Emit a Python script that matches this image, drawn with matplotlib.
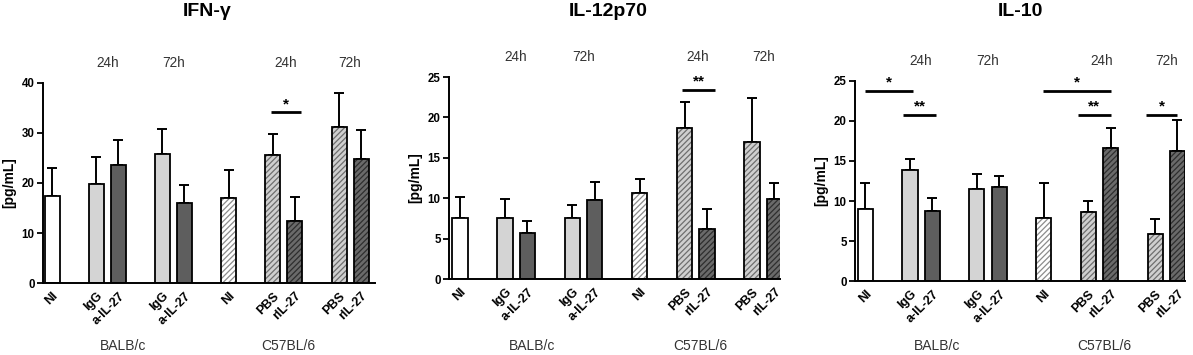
import numpy as np
import matplotlib
matplotlib.use('Agg')
import matplotlib.pyplot as plt
from matplotlib.transforms import blended_transform_factory

plt.rcParams['font.family'] = ['Liberation Sans', 'DejaVu Sans']
plt.rcParams['hatch.linewidth'] = 0.9

# bar layout: BALB/c NI, 24h IgG/a-IL-27, 72h IgG/a-IL-27 | C57BL/6 NI, 24h PBS/rIL-27, 72h PBS/rIL-27
positions = [0, 2, 3, 5, 6, 8, 10, 11, 13, 14]
bar_labels = ['NI', 'IgG', 'a-IL-27', 'IgG', 'a-IL-27', 'NI', 'PBS', 'rIL-27', 'PBS', 'rIL-27']
time_labels = ['24h', '72h', '24h', '72h']
time_pos = [2.5, 5.5, 10.6, 13.5]
group_labels = ['BALB/c', 'C57BL/6']
group_pos = [3.2, 10.7]

titles = ['IFN-\u03b3', 'IL-12p70', 'IL-10']

ifn_mean = [17.3, 19.7, 23.6, 25.8, 16.0, 16.9, 25.6, 12.4, 31.1, 24.7]
ifn_sem = [5.6, 5.4, 4.9, 5.0, 3.5, 5.6, 4.2, 4.7, 6.9, 5.9]

il12_mean = [7.5, 7.6, 5.7, 7.5, 9.8, 10.6, 18.7, 6.2, 17.0, 9.9]
il12_sem = [2.7, 2.3, 1.5, 1.6, 2.2, 1.8, 3.2, 2.5, 5.4, 2.0]

il10_mean = [9.0, 13.9, 8.7, 11.5, 11.7, 7.9, 8.6, 16.6, 5.9, 16.3]
il10_sem = [3.2, 1.4, 1.7, 1.9, 1.4, 4.3, 1.4, 2.5, 1.8, 3.8]

# significance brackets: (x start, x end, y, label)
ifn_sig = [(9.9, 11.3, 34.2, '*')]
il12_sig = [(9.9, 11.35, 23.4, '**')]
il10_sig = [(0.0, 2.15, 23.8, '*'), (1.7, 3.15, 20.8, '**'),
            (7.95, 11.0, 23.8, '*'), (9.55, 11.0, 20.8, '**'),
            (12.6, 14.0, 20.8, '*')]

ymax = [40, 25, 25]
ystep = [10, 5, 5]

face = ['white', '#d4d4d4', '#5e5e5e', '#d4d4d4', '#5e5e5e',
        'white', '#cfcfcf', '#6a6a6a', '#cfcfcf', '#6a6a6a']
hatch_col = [None, None, None, None, None,
             '#8c8c8c', '#6e6e6e', '#2e2e2e', '#6e6e6e', '#2e2e2e']

boxes = [
    [43 / 1193, 72 / 355, 332 / 1193, 200 / 355],
    [449 / 1193, 76 / 355, 331 / 1193, 202 / 355],
    [855 / 1193, 74 / 355, 330 / 1193, 200 / 355],
]
xlims = [(-0.41, 14.63), (-0.49, 14.25), (-0.47, 14.34)]
title_x = [207, 608, 1020]

fig = plt.figure(figsize=(11.93, 3.55), dpi=100)

data = [(ifn_mean, ifn_sem, ifn_sig), (il12_mean, il12_sem, il12_sig), (il10_mean, il10_sem, il10_sig)]

for k, (mean, sem, sig) in enumerate(data):
    ax = fig.add_axes(boxes[k])
    w = 0.68
    for i, x in enumerate(positions):
        if hatch_col[i] is None:
            ax.bar(x, mean[i], width=w, color=face[i], edgecolor='black', linewidth=1.3, zorder=2)
        else:
            ax.bar(x, mean[i], width=w, color=face[i], edgecolor=hatch_col[i], linewidth=0,
                   hatch='//////', zorder=2)
            ax.bar(x, mean[i], width=w, fill=False, edgecolor='black', linewidth=1.3, zorder=3)
    ax.errorbar(positions, mean, yerr=[np.zeros(len(sem)), sem], fmt='none',
                ecolor='black', elinewidth=1.4, capsize=3.5, capthick=1.4, zorder=1)

    for x0, x1, y, s in sig:
        ax.plot([x0, x1], [y, y], color='black', linewidth=2, solid_capstyle='butt', clip_on=False)
        ax.text((x0 + x1) / 2, y + ymax[k] * 0.005, s, ha='center', va='bottom',
                fontsize=11, fontweight='bold')

    ax.set_xlim(*xlims[k])
    ax.set_ylim(0, ymax[k])
    ax.set_yticks(np.arange(0, ymax[k] + 1, ystep[k]))
    ax.set_xticks(positions)
    ax.set_xticklabels(bar_labels, rotation=45, ha='right', rotation_mode='anchor',
                       fontsize=9, fontweight='bold')
    ax.tick_params(axis='x', length=0, pad=5)
    ax.tick_params(axis='y', length=4, width=1.3, labelsize=8.3, pad=2)
    for lab in ax.get_yticklabels():
        lab.set_fontweight('bold')
    for side in ['top', 'right']:
        ax.spines[side].set_visible(False)
    for side in ['left', 'bottom']:
        ax.spines[side].set_linewidth(1.4)
    ax.set_ylabel('[pg/mL]', fontsize=10, fontweight='bold', labelpad=4)

    for t, x in zip(time_labels, time_pos):
        ax.text(x, 1.1, t, transform=blended_transform_factory(ax.transData, ax.transAxes),
                ha='center', va='center', fontsize=9.8, color='#333333')
    for g, x in zip(group_labels, group_pos):
        ax.text(x, 1 - 346 / 355, g, transform=blended_transform_factory(ax.transData, fig.transFigure),
                ha='center', va='center', fontsize=10, color='#333333')

    fig.text(title_x[k] / 1193, 1 - 12 / 355, titles[k], ha='center', va='center',
             fontsize=14, fontweight='bold')

fig.savefig('out.png', dpi=100)
